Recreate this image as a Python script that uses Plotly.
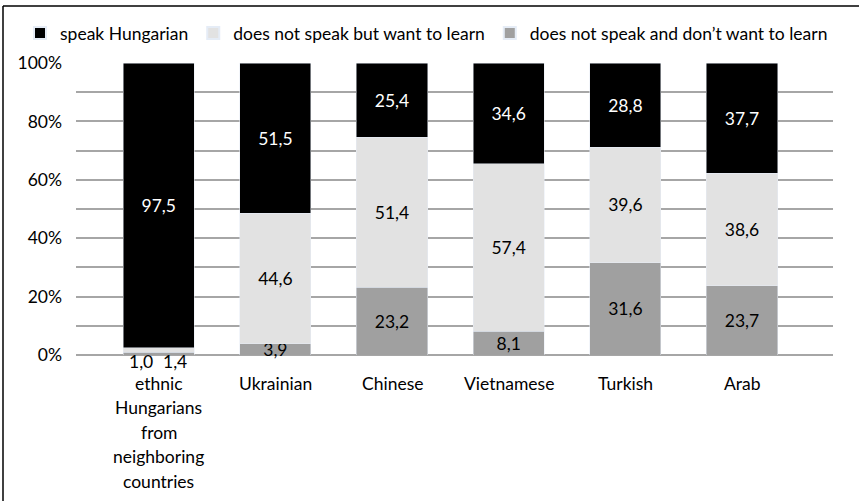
import plotly.graph_objects as go

categories = ["ethnic<br>Hungarians<br>from<br>neighboring<br>countries", "Ukrainian", "Chinese", "Vietnamese", "Turkish", "Arab"]
speak = [97.5, 51.5, 25.4, 34.6, 28.8, 37.7]
want = [1.4, 44.6, 51.4, 57.4, 39.6, 38.6]
notwant = [1.0, 3.9, 23.2, 8.1, 31.6, 23.7]
series_names = ["speak Hungarian", "does not speak but want to learn", "does not speak and don\u2019t want to learn"]
y_ticks = [0, 20, 40, 60, 80, 100]

FONT = "Lato"
FS = 17.5
W, H = 859, 501
ML, MR, MT, MB = 76, 26, 63, 146
PW = W - ML - MR
PH = H - MT - MB


def fmt(v):
    return f"{v:.1f}".replace(".", ",")


def px_x(p):
    return (p - ML) / PW


def px_y(p):
    return (H - MB - p) / PH


txt_not = [fmt(v) for v in notwant]
txt_want = [fmt(v) for v in want]
txt_not[0] = ""
txt_want[0] = ""

fig = go.Figure()
common = dict(textposition="inside", insidetextanchor="middle", cliponaxis=False, width=0.61)
fig.add_trace(go.Bar(x=categories, y=notwant, name=series_names[2], marker_color="#a0a0a0",
                     text=txt_not, textfont=dict(color="black", size=FS), **common))
fig.add_trace(go.Bar(x=categories, y=want, name=series_names[1], marker_color="#e2e2e2",
                     text=txt_want, textfont=dict(color="black", size=FS), **common))
fig.add_trace(go.Bar(x=categories, y=speak, name=series_names[0], marker_color="#000000",
                     text=[fmt(v) for v in speak], textfont=dict(color="white", size=FS), **common))

# small values of first bar shown below axis
fig.add_annotation(x=categories[0], y=0, text=fmt(notwant[0]), showarrow=False, yanchor="middle",
                   xshift=-18, yshift=-6, font=dict(size=FS, color="black"))
fig.add_annotation(x=categories[0], y=0, text=fmt(want[0]), showarrow=False, yanchor="middle",
                   xshift=16, yshift=-6, font=dict(size=FS, color="black"))

# category labels, one line per annotation for Excel-like line spacing
for cat in categories:
    for i, line in enumerate(cat.split("<br>")):
        fig.add_annotation(x=cat, y=0, text=line, showarrow=False, yanchor="middle",
                           yshift=-(28 + 24.5 * i), font=dict(size=FS, color="black"))

# frame lines (top and left)
fig.add_shape(type="line", xref="paper", yref="paper", x0=px_x(3), x1=px_x(W + 5), y0=px_y(6), y1=px_y(6),
              line=dict(color="black", width=1.5))
fig.add_shape(type="line", xref="paper", yref="paper", x0=px_x(3), x1=px_x(3), y0=px_y(6), y1=px_y(H + 5),
              line=dict(color="black", width=1.5))

fig.update_layout(
    width=W, height=H,
    margin=dict(l=ML, r=MR, t=MT, b=MB),
    barmode="stack",
    barnorm="percent",
    plot_bgcolor="white", paper_bgcolor="white",
    font=dict(family=FONT, size=FS, color="black"),
    uniformtext=dict(minsize=FS, mode="show"),
    showlegend=True,
    legend=dict(orientation="h", x=px_x(20), y=px_y(33), xanchor="left", yanchor="middle",
                traceorder="reversed", font=dict(size=FS), itemsizing="constant",
                bgcolor="rgba(0,0,0,0)"),
    xaxis=dict(range=[-0.709, 5.78], showgrid=False, showline=False, ticks="",
               showticklabels=False, fixedrange=True),
    yaxis=dict(range=[0, 100], tickvals=y_ticks, ticktext=[f"{t}%" for t in y_ticks],
               showgrid=True, gridcolor="#a6a6a6", gridwidth=1.5,
               minor=dict(showgrid=True, gridcolor="#a6a6a6", gridwidth=1.5, dtick=10),
               zeroline=True, zerolinecolor="#a6a6a6", zerolinewidth=1.5,
               showline=False, ticks="", ticklabelstandoff=13, tickfont=dict(size=FS)),
)

fig.write_html("out.html", config={"displayModeBar": False},
               post_script="document.body.style.margin='0';")
